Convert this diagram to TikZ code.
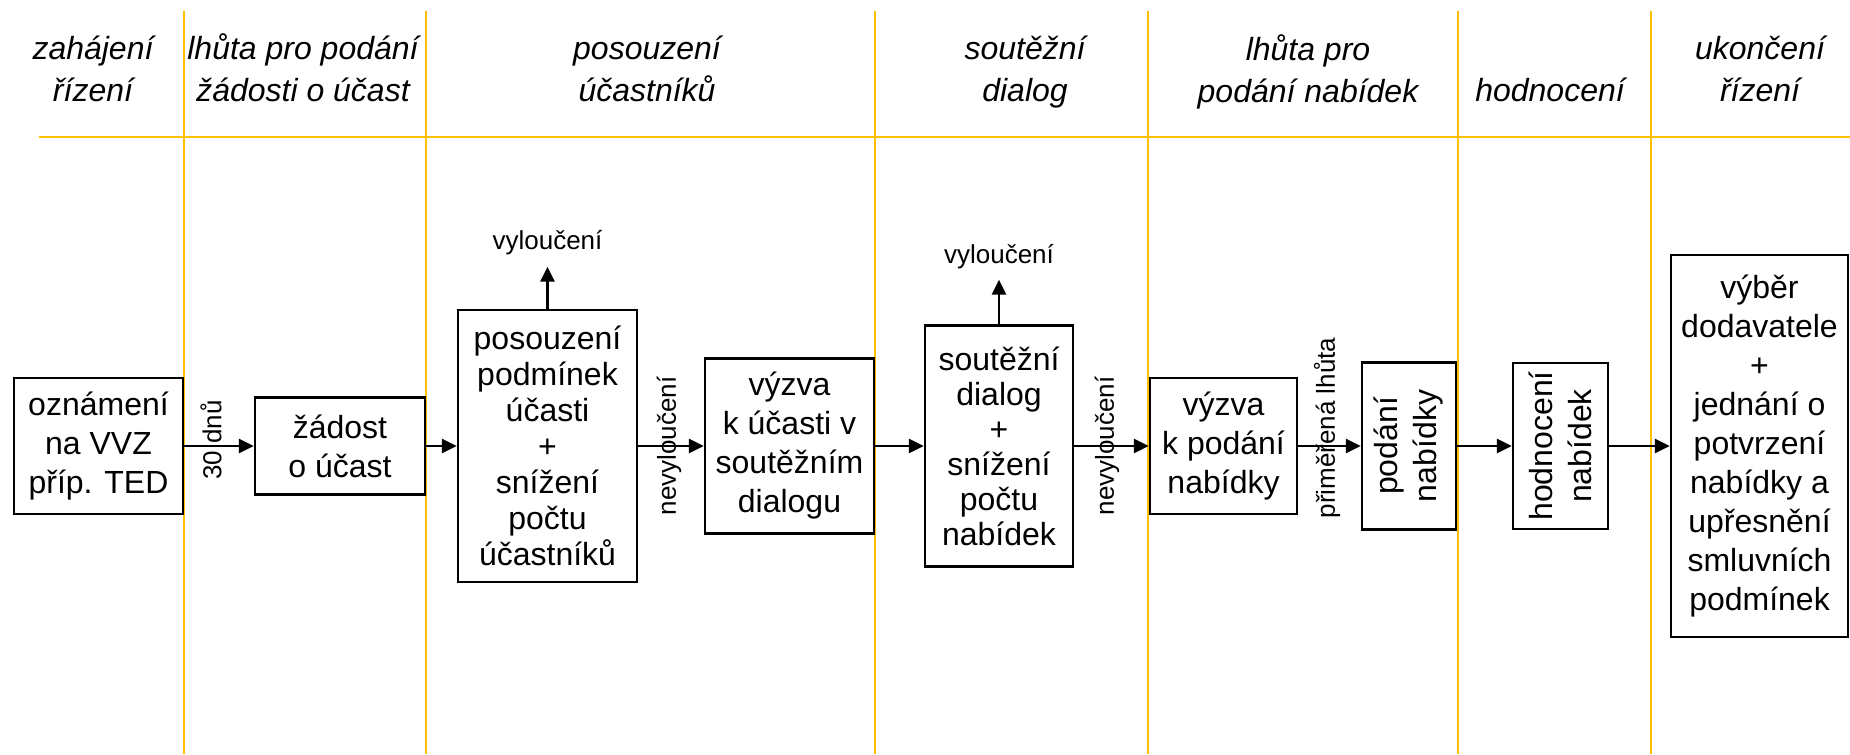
\documentclass[tikz,border=0pt]{standalone}
\usepackage{fontspec}
\setmainfont{Liberation Sans}
\usetikzlibrary{arrows.meta}
\definecolor{lanecol}{HTML}{FFC000}
\begin{document}
\begin{tikzpicture}[x=0.5pt,y=-0.5pt,
  laneline/.style={draw=lanecol, line width=1pt},
  box/.style={draw=black, line width=1.2pt, fill=white, inner sep=0pt, align=center,
    font=\fontsize{16}{19.5}\selectfont},
  head/.style={align=center, inner sep=0pt, font=\fontsize{16}{21}\selectfont\itshape},
  lbl/.style={inner sep=0pt, font=\fontsize{13}{15}\selectfont},
  arr/.style={line width=1.35pt, -{Triangle[length=7.5pt,width=7pt]}},
]
\useasboundingbox (0,0) rectangle (1850,754);

% lanes
\coordinate (h0) at (39,137);
\coordinate (h1) at (1850,137);
\draw[laneline] (h0) -- (h1);
\foreach \lx [count=\i] in {184,426,875,1148,1458,1651}{
  \coordinate (lt\i) at (\lx,11);
  \coordinate (lb\i) at (\lx,754);
  \draw[laneline] (lt\i) -- (lb\i);
}

% headers
\node[head] (t1) at (93,69) {zahájení\\řízení};
\node[head] (t2) at (303,68) {lhůta pro podání\\žádosti o účast};
\node[head] (t3) at (647,69) {posouzení\\účastníků};
\node[head] (t4) at (1025,72.5) {soutěžní\\dialog};
\node[head] (t5) at (1308,71.5) {lhůta pro\\podání nabídek};
\node[head, anchor=base] (t6) at (1550,102) {hodnocení};
\node[head] (t7) at (1760,69) {ukončení\\řízení};

% boxes
\node[box, minimum width=84.5pt, minimum height=68pt] (ozn) at (98.5,446) {oznámení\\na VVZ\\příp. TED};
\node[box, minimum width=85pt, minimum height=48.5pt] (zad) at (340,446) {žádost\\o účast};
\node[box, minimum width=89.5pt, minimum height=136pt, font=\fontsize{16}{18}\selectfont] (pos) at (547.5,446)
  {posouzení\\podmínek\\účasti\\+\\snížení\\počtu\\účastníků};
\node[box, minimum width=84.5pt, minimum height=87.5pt] (vz1) at (789.5,446) {výzva\\k účasti v\\soutěžním\\dialogu};
\node[box, minimum width=74pt, minimum height=120.5pt, font=\fontsize{16}{17.5}\selectfont] (sd) at (999,446)
  {soutěžní\\dialog\\+\\snížení\\počtu\\nabídek};
\node[box, minimum width=73.5pt, minimum height=68pt] (vz2) at (1223.5,446) {výzva\\k podání\\nabídky};
\node[box, rotate=90, minimum width=83.5pt, minimum height=47pt] (pod) at (1409,446) {podání\\nabídky};
\node[box, rotate=90, minimum width=83pt, minimum height=47.5pt] (hod) at (1560.5,446) {hodnocení\\nabídek};
\node[box, minimum width=88.5pt, minimum height=191pt] (vyb) at (1759.5,446)
  {výběr\\dodavatele\\+\\jednání o\\potvrzení\\nabídky a\\upřesnění\\smluvních\\podmínek};

% labels
\node[lbl] (vyl1) at (547.5,243) {vyloučení};
\node[lbl] (vyl2) at (999,257) {vyloučení};

% arrows
\draw[arr] (ozn) -- (zad);
\draw[arr] (zad) -- (pos);
\draw[arr] (pos) -- (vz1);
\draw[arr] (vz1) -- (sd);
\draw[arr] (sd) -- (vz2);
\draw[arr] (vz2) -- (pod);
\draw[arr] (pod) -- (hod);
\draw[arr] (hod) -- (vyb);
\draw[arr] (pos.north) -- ([yshift=-5.5pt]vyl1.south);
\draw[arr] (sd.north) -- ([yshift=-5pt]vyl2.south);

% rotated arrow labels
\node[lbl, rotate=90] (l30) at (211,440) {30 dnů};
\node[lbl, rotate=90] (nv1) at (669,446) {nevyloučení};
\node[lbl, rotate=90] (nv2) at (1107,446) {nevyloučení};
\node[lbl, rotate=90] (pl) at (1327,428) {přiměřená lhůta};
\end{tikzpicture}
\end{document}
